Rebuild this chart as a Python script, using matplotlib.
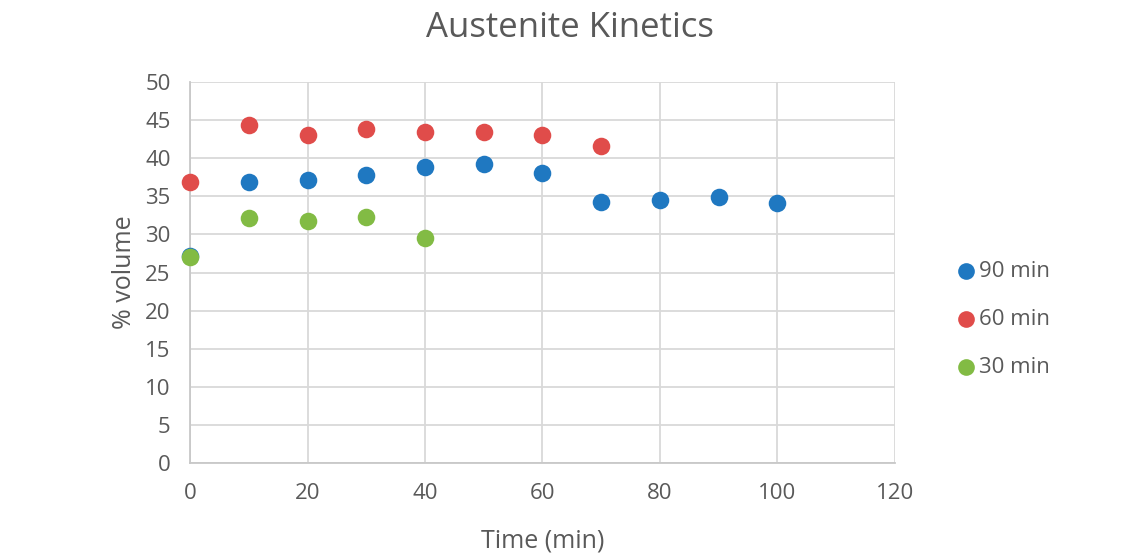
import matplotlib.pyplot as plt

# data
time_90 = [0, 10, 20, 30, 40, 50, 60, 70, 80, 90, 100]
vol_90 = [27.2, 36.9, 37.1, 37.8, 38.8, 39.2, 38.1, 34.2, 34.5, 34.9, 34.1]
time_60 = [0, 10, 20, 30, 40, 50, 60, 70]
vol_60 = [36.9, 44.3, 43.0, 43.8, 43.5, 43.5, 43.0, 41.6]
time_30 = [0, 10, 20, 30, 40]
vol_30 = [27.0, 32.2, 31.7, 32.3, 29.6]
labels = ['90 min', '60 min', '30 min']
colors = ['#1f78c1', '#e04c4a', '#82bb44']

plt.rcParams['font.family'] = ['Open Sans', 'DejaVu Sans']
txt = '#595959'

fig = plt.figure(figsize=(11.4, 5.54), dpi=100)
ax = fig.add_axes([0.1667, 0.164, 0.6183, 0.688])

series = [(time_90, vol_90), (time_60, vol_60), (time_30, vol_30)]
for (x, y), lab, c in zip(series, labels, colors):
    ax.scatter(x, y, s=160, color=c, label=lab, zorder=3, linewidths=0, clip_on=False)

ax.set_xlim(0, 120)
ax.set_ylim(0, 50)
ax.set_xticks(range(0, 121, 20))
ax.set_yticks(range(0, 51, 5))
ax.grid(True, color='#d9d9d9', lw=1.3)
ax.set_axisbelow(True)
for s in ['top', 'right']:
    ax.spines[s].set_visible(False)
for s in ['left', 'bottom']:
    ax.spines[s].set_color('#c8c8c8')
    ax.spines[s].set_linewidth(1.3)
ax.tick_params(length=0, labelsize=16, colors=txt)
ax.tick_params(axis='y', pad=14)
ax.tick_params(axis='x', pad=14)

ax.set_xlabel('Time (min)', fontsize=18, color=txt, labelpad=18)
ax.set_ylabel('% volume', fontsize=18, color=txt, labelpad=6)
fig.text(0.5, 0.95, 'Austenite Kinetics', ha='center', va='center', fontsize=25, color=txt)

leg = ax.legend(loc='center left', bbox_to_anchor=(1.085, 0.377), frameon=False,
                fontsize=16, labelcolor=txt, handletextpad=0.1, labelspacing=1.2,
                handlelength=1, markerscale=0.95, borderaxespad=0, borderpad=0)

fig.savefig('out.png', dpi=100, facecolor='white')
